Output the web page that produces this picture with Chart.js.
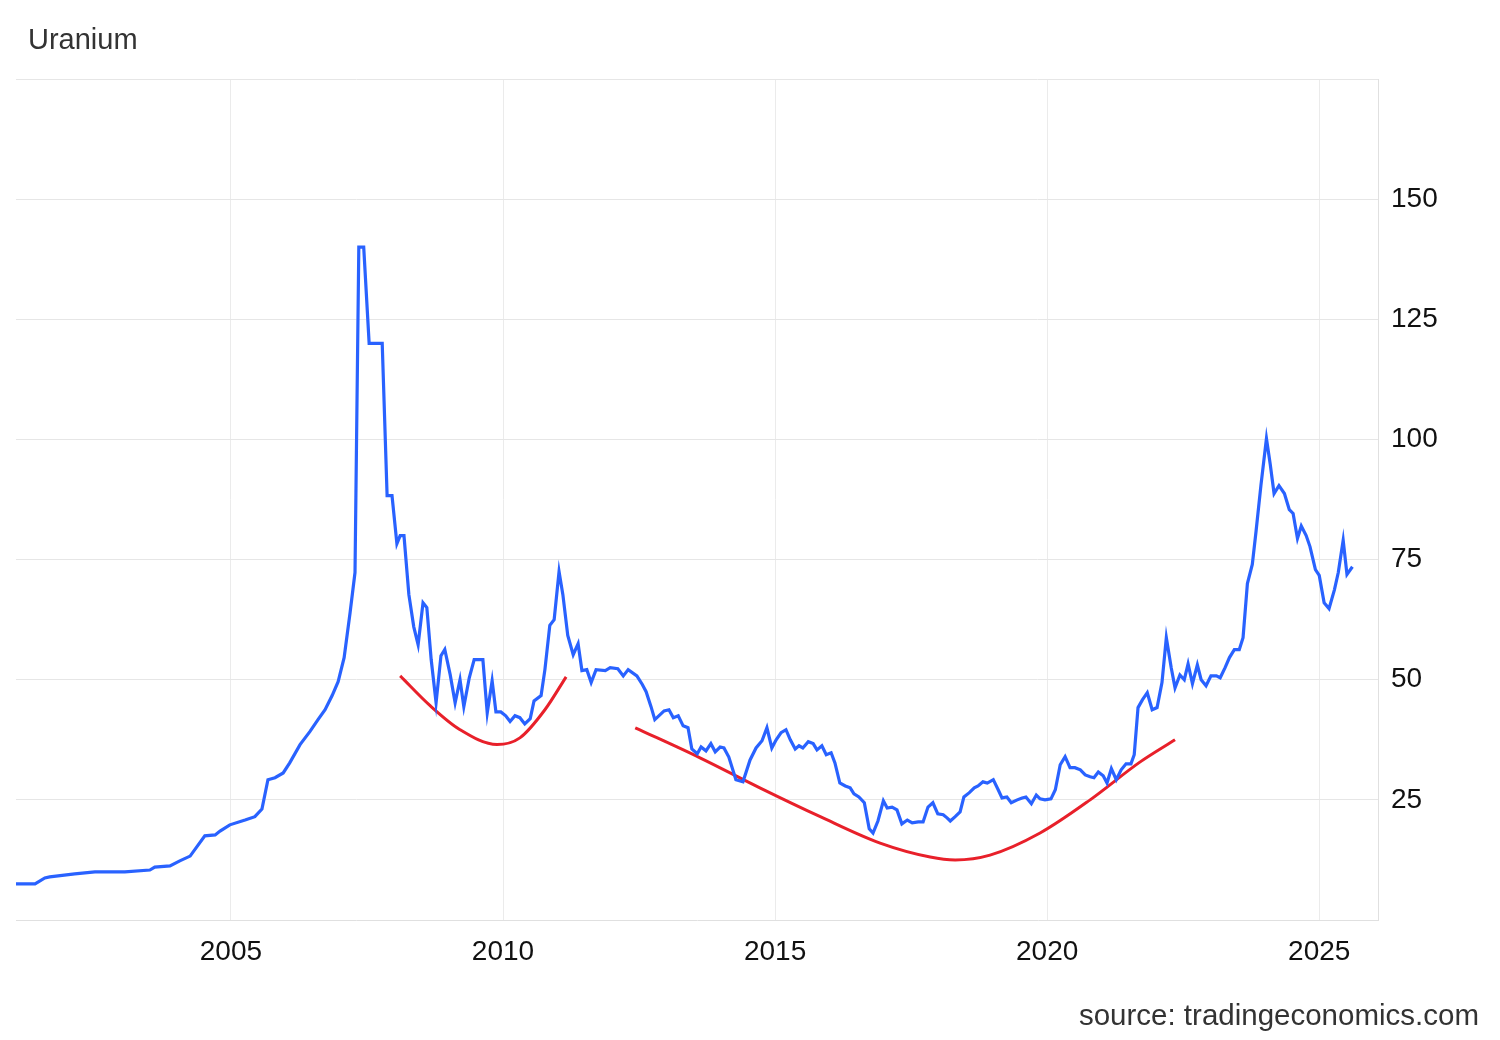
<!DOCTYPE html>
<html><head><meta charset="utf-8">
<script src="https://cdn.jsdelivr.net/npm/chart.js@4"></script>
<style>
body{margin:0;background:#fff;width:1500px;height:1040px;position:relative;font-family:"Liberation Sans",Arial,sans-serif;overflow:hidden}
#t{position:absolute;left:28px;top:23px;font-size:29px;color:#333}
#s{position:absolute;right:21px;top:998px;font-size:29.5px;color:#333}
canvas{position:absolute;left:0;top:0}
</style></head><body>
<canvas id="c" width="1500" height="1040" style="width:1500px;height:1040px"></canvas>
<div id="t">Uranium</div>
<div id="s">source: tradingeconomics.com</div>
<script>
const priceYears=[2001.05,2001.40,2001.58,2001.67,2002.13,2002.50,2003.05,2003.51,2003.60,2003.88,2004.06,2004.25,2004.52,2004.71,2004.80,2004.98,2005.26,2005.44,2005.57,2005.68,2005.81,2005.96,2006.08,2006.27,2006.45,2006.60,2006.73,2006.86,2006.97,2007.08,2007.19,2007.28,2007.35,2007.44,2007.54,2007.78,2007.87,2007.96,2008.05,2008.11,2008.18,2008.27,2008.36,2008.44,2008.53,2008.60,2008.68,2008.77,2008.86,2008.93,2009.03,2009.12,2009.21,2009.28,2009.38,2009.47,2009.63,2009.71,2009.80,2009.87,2009.96,2010.05,2010.13,2010.22,2010.31,2010.40,2010.50,2010.57,2010.70,2010.77,2010.86,2010.94,2011.03,2011.10,2011.19,2011.29,2011.38,2011.45,2011.54,2011.62,2011.71,2011.88,2011.97,2012.11,2012.21,2012.30,2012.46,2012.56,2012.63,2012.72,2012.79,2012.96,2013.05,2013.13,2013.22,2013.31,2013.40,2013.47,2013.57,2013.64,2013.73,2013.82,2013.90,2013.99,2014.06,2014.15,2014.28,2014.41,2014.54,2014.65,2014.76,2014.85,2014.94,2015.02,2015.11,2015.20,2015.28,2015.37,2015.44,2015.51,2015.61,2015.70,2015.77,2015.86,2015.94,2016.03,2016.10,2016.19,2016.29,2016.38,2016.45,2016.54,2016.64,2016.73,2016.80,2016.89,2016.99,2017.06,2017.15,2017.24,2017.33,2017.43,2017.52,2017.63,2017.72,2017.81,2017.90,2017.99,2018.09,2018.16,2018.22,2018.31,2018.40,2018.47,2018.57,2018.66,2018.73,2018.82,2018.90,2019.01,2019.10,2019.17,2019.26,2019.34,2019.45,2019.54,2019.61,2019.71,2019.80,2019.87,2019.96,2020.07,2020.15,2020.24,2020.33,2020.42,2020.51,2020.61,2020.70,2020.79,2020.86,2020.94,2021.03,2021.10,2021.18,2021.27,2021.36,2021.45,2021.54,2021.60,2021.67,2021.75,2021.84,2021.93,2022.02,2022.11,2022.19,2022.28,2022.35,2022.44,2022.52,2022.59,2022.67,2022.76,2022.83,2022.92,2023.01,2023.11,2023.18,2023.27,2023.35,2023.44,2023.53,2023.60,2023.68,2023.77,2023.84,2023.93,2024.03,2024.10,2024.17,2024.26,2024.36,2024.45,2024.52,2024.60,2024.67,2024.76,2024.83,2024.93,2025.00,2025.09,2025.18,2025.28,2025.35,2025.44,2025.51,2025.61];
const priceValues=[7.5,7.5,8.75,8.96,9.58,10.0,10.0,10.4,11.0,11.25,12.3,13.3,17.5,17.7,18.5,19.8,20.8,21.5,23.1,29.2,29.6,30.6,32.7,36.5,39.2,41.7,43.75,46.7,49.6,54.6,64.0,72.3,140,140,120,120,88.3,88.3,78.3,80,80,67.7,61,57.3,66.0,65,54.2,45.2,55,56.3,51,45.2,50,44.4,50.4,54.2,54.2,43.1,49.8,43.3,43.3,42.5,41.3,42.5,42.1,40.8,41.9,45.6,46.7,52.1,61.3,62.5,72.5,67.7,59.2,55.2,57.5,51.9,52.1,49.4,52.1,51.9,52.5,52.3,50.8,52.1,50.8,49.0,47.5,44.4,41.7,43.5,43.75,42.1,42.5,40.4,40.0,35.6,34.6,36.0,35.2,36.7,35.0,36.0,35.8,33.9,29.2,28.75,33.3,35.8,37.3,40.0,35.8,37.5,39.0,39.6,37.5,35.6,36.25,35.8,37.1,36.7,35.4,36.25,34.4,34.8,32.7,28.5,27.9,27.5,26.25,25.6,24.4,19.0,18.1,20.6,24.8,23.3,23.5,22.9,20.0,20.8,20.2,20.4,20.4,23.5,24.4,22.1,21.9,21.25,20.6,21.5,22.5,25.6,26.5,27.5,27.9,28.75,28.5,29.2,27.1,25.4,25.6,24.4,25.0,25.4,25.6,24.2,26.0,25.2,25.0,25.2,27.1,32.3,34.0,31.7,31.7,31.25,30.2,29.8,29.6,30.8,30.0,28.5,31.5,29.2,31.25,32.5,32.5,34.4,44.2,45.8,47.3,43.75,44.2,49.4,58.75,52.5,48.3,51.0,50.0,53.3,49.2,53.1,50.0,48.75,50.8,50.8,50.4,52.5,54.6,56.25,56.25,58.75,70.0,74.0,81.0,90.6,100.2,94.8,88.75,90.4,88.75,85.4,84.6,79.4,82.0,80.0,77.7,72.9,71.7,66.0,64.8,68.75,72.3,79.0,71.9,73.5];
const arc1Years=[2008.11,2008.66,2009.21,2009.89,2010.31,2010.77,2011.16];
const arc1Values=[50.8,44.6,39.6,36.5,37.9,43.75,50.6];
const arc2Years=[2012.43,2013.62,2014.72,2015.83,2016.93,2017.85,2018.31,2018.95,2019.87,2020.79,2021.71,2022.35];
const arc2Values=[40.0,33.75,27.5,21.5,16.0,13.1,12.5,13.5,18.1,25.0,32.9,37.5];
const xTicks=[2005,2010,2015,2020,2025];
const yTicks=[25,50,75,100,125,150,175];
const pts=(xs,ys)=>xs.map((x,i)=>({x,y:ys[i]}));
new Chart(document.getElementById('c'),{
 type:'line',
 data:{datasets:[
  {data:pts(priceYears,priceValues),borderColor:'#2962ff',borderWidth:3.2,pointRadius:0,tension:0},
  {data:pts(arc1Years,arc1Values),borderColor:'#e8202a',borderWidth:3,pointRadius:0,cubicInterpolationMode:'monotone'},
  {data:pts(arc2Years,arc2Values),borderColor:'#e8202a',borderWidth:3,pointRadius:0,cubicInterpolationMode:'monotone'}
 ]},
 options:{responsive:false,animation:false,devicePixelRatio:1,
  layout:{padding:{top:79,left:16,right:0,bottom:0}},
  plugins:{legend:{display:false},tooltip:{enabled:false}},
  scales:{
   x:{type:'linear',min:2001.05,max:2026.08,
    afterBuildTicks:a=>{a.ticks=xTicks.map(v=>({value:v}));},
    afterFit:a=>{a.height=120;},
    grid:{color:'#ebebeb',lineWidth:1,drawTicks:false},border:{color:'#e0e0e0'},
    ticks:{padding:15,color:'#111',font:{family:'Liberation Sans',size:28},callback:v=>String(v)}},
   y:{position:'right',min:0,max:175,
    afterBuildTicks:a=>{a.ticks=yTicks.map(v=>({value:v}));},
    afterFit:a=>{a.width=122;},
    grid:{color:'#e6e6e6',lineWidth:1,drawTicks:false},border:{color:'#e0e0e0'},
    ticks:{padding:13,color:'#111',font:{family:'Liberation Sans',size:28},callback:v=>v===175?'':String(v)}}
  }}
});
</script></body></html>
